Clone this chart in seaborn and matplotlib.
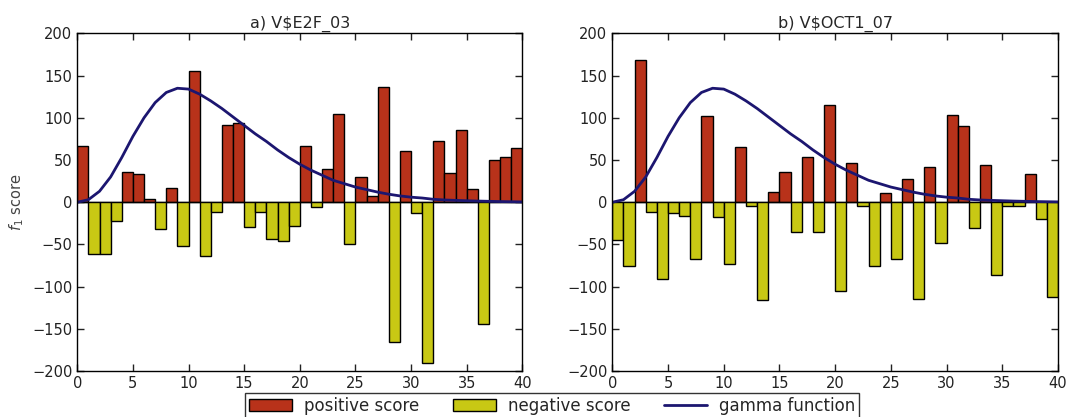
import numpy as np
import pandas as pd
import matplotlib
matplotlib.use("Agg")
import matplotlib.pyplot as plt
import seaborn as sns
from matplotlib.patches import Patch
from matplotlib.lines import Line2D

# ---- data ----
bins = list(range(40))

e2f_pos = [67, 0, 0, 0, 36, 33, 4, 0, 17, 0,
           156, 0, 0, 91, 94, 0, 0, 0, 0, 0,
           67, 0, 39, 104, 0, 30, 7, 137, 0, 61,
           0, 0, 72, 35, 85, 16, 0, 50, 54, 64]
e2f_neg = [0, -61, -61, -22, 0, 0, 0, -32, 0, -52,
           0, -64, -11, 0, 0, -29, -11, -43, -46, -28,
           0, -6, 0, 0, -50, 0, 0, 0, -165, 0,
           -13, -190, 0, 0, 0, 0, -144, 0, 0, 0]

oct_pos = [0, 0, 169, 0, 0, 0, 0, 0, 102, 0,
           0, 65, 0, 0, 12, 36, 0, 54, 0, 115,
           0, 46, 0, 0, 11, 0, 27, 0, 42, 0,
           103, 90, 0, 44, 0, 0, 0, 34, 0, 0]
oct_neg = [-45, -76, 0, -11, -91, -13, -16, -67, 0, -17,
           -73, 0, -5, -116, 0, 0, -35, 0, -35, 0,
           -105, 0, -4, -75, 0, -67, 0, -114, 0, -48,
           0, 0, -31, 0, -86, -4, -5, 0, -20, -112]

gamma_x = list(range(41))
gamma_y = [0, 3, 13, 30, 53, 78, 100, 118, 130, 135,
           134, 128, 120, 111, 101, 91, 81, 72, 62, 53,
           45, 38, 32, 26, 22, 18, 15, 12, 9.5, 7.5,
           6, 5, 3.5, 2.7, 2.2, 1.8, 1.4, 1.1, 0.8, 0.6, 0.4]

titles = ["a) V\\$E2F_03", "b) V\\$OCT1_07"]
panels = [(e2f_pos, e2f_neg), (oct_pos, oct_neg)]

# ---- style ----
sns.set_style("ticks")
plt.rcParams["font.family"] = ["DejaVu Sans"]
plt.rcParams.update({
    "xtick.direction": "in", "ytick.direction": "in",
    "xtick.top": True, "ytick.right": True,
    "xtick.major.size": 5, "ytick.major.size": 5,
    "xtick.color": "#222222", "ytick.color": "#222222",
    "axes.edgecolor": "black", "axes.linewidth": 1.0,
})

RED = "#b8321a"
YEL = "#c8c814"
LINE = "#1c1670"

fig = plt.figure(figsize=(10.79, 4.17), dpi=100)
axes = [fig.add_axes([0.0716, 0.110, 0.4125, 0.810]),
        fig.add_axes([0.5675, 0.110, 0.4130, 0.810])]

for ax, (pos, neg), title in zip(axes, panels, titles):
    centers = [b + 0.5 for b in bins]
    dfp = pd.DataFrame({"x": centers, "y": pos})
    dfn = pd.DataFrame({"x": centers, "y": neg})
    sns.barplot(data=dfp, x="x", y="y", native_scale=True, width=1.0,
                color=RED, saturation=1, edgecolor="black", linewidth=1.0,
                errorbar=None, ax=ax)
    sns.barplot(data=dfn, x="x", y="y", native_scale=True, width=1.0,
                color=YEL, saturation=1, edgecolor="black", linewidth=1.0,
                errorbar=None, ax=ax)
    gdf = pd.DataFrame({"x": gamma_x, "y": gamma_y})
    sns.lineplot(data=gdf, x="x", y="y", color=LINE, linewidth=2, ax=ax)
    ax.set_xlim(0, 40)
    ax.set_ylim(-200, 200)
    ax.set_xticks(range(0, 41, 5))
    ax.set_xticklabels([str(v) for v in range(0, 41, 5)])
    ax.set_yticks(range(-200, 201, 50))
    ax.set_yticklabels([("\u2212" + str(-v)) if v < 0 else str(v) for v in range(-200, 201, 50)])
    ax.tick_params(labelsize=10.5, width=1)
    ax.set_xlabel("")
    ax.set_ylabel("")
    ax.set_title(title, fontsize=11.5, pad=4)
    for s in ax.spines.values():
        s.set_visible(True)

axes[0].set_ylabel("$f_1$ score", fontsize=10.5, color="#444444", labelpad=4)

handles = [Patch(facecolor=RED, edgecolor="black", label="positive score"),
           Patch(facecolor=YEL, edgecolor="black", label="negative score"),
           Line2D([0], [0], color=LINE, lw=2, label="gamma function")]
fig.legend(handles=handles, loc="upper center", bbox_to_anchor=(0.5115, 0.078),
           ncol=3, fontsize=12, frameon=True, fancybox=False, edgecolor="black",
           handlelength=2.6, handletextpad=0.7, columnspacing=2.0, borderpad=0.25)

fig.savefig("out.png", dpi=100)
